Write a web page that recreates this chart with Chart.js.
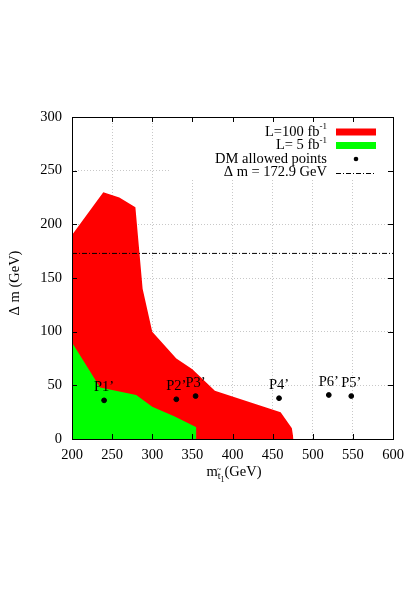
<!DOCTYPE html>
<html>
<head>
<meta charset="utf-8">
<script src="https://cdn.jsdelivr.net/npm/chart.js@4"></script>
<style>
body { margin: 0; background: #fff; }
</style>
</head>
<body>
<canvas id="chart" width="420" height="600"></canvas>
<script>
// reach region, L = 100 fb^-1
var redX = [200, 239, 259, 279, 288, 300, 330, 350, 378, 460, 474, 476];
var redY = [190, 230, 225, 216, 140, 100, 75, 65, 45, 25, 10, 0];
// reach region, L = 5 fb^-1
var greenX = [200, 235, 280, 300, 328, 355, 355];
var greenY = [90, 48, 41, 30, 21, 11, 0];
// DM allowed points
var pointNames = ["P1\u2019", "P2\u2019", "P3\u2019", "P4\u2019", "P6\u2019", "P5\u2019"];
var pointX = [240, 330, 354, 458, 520, 548];
var pointY = [36, 37, 40, 38, 41, 40];
// top mass line
var topMass = 172.9;
var xTicks = [200, 250, 300, 350, 400, 450, 500, 550, 600];
var yTicks = [0, 50, 100, 150, 200, 250, 300];

var FONT = "'Liberation Serif', 'DejaVu Serif', serif";
var FS = 14.5;

function toXY(xs, ys) {
	var out = [];
	for (var i = 0; i < xs.length; i++) out.push({x: xs[i], y: ys[i]});
	return out;
}

var framePlugin = {
	id: 'frame',
	beforeDatasetsDraw: function(chart) {
		var ctx = chart.ctx;
		var a = chart.chartArea;
		// legend box hides the grid
		ctx.save();
		ctx.fillStyle = '#fff';
		ctx.fillRect(170, a.top, a.right - 170, 61);
		ctx.restore();
	},
	afterDatasetsDraw: function(chart) {
		var ctx = chart.ctx;
		var meta = chart.getDatasetMeta(0);
		ctx.save();
		ctx.font = FS + 'px ' + FONT;
		ctx.fillStyle = '#000';
		ctx.textAlign = 'center';
		ctx.textBaseline = 'middle';
		for (var i = 0; i < pointNames.length; i++) {
			var el = meta.data[i];
			ctx.fillText(pointNames[i], el.x, el.y - 13);
		}
		ctx.restore();
	},
	afterDraw: function(chart) {
		var ctx = chart.ctx;
		var a = chart.chartArea;
		var xs = chart.scales.x, ys = chart.scales.y;
		ctx.save();
		ctx.strokeStyle = '#000';
		ctx.lineWidth = 1;
		ctx.strokeRect(Math.round(a.left) + 0.5, Math.round(a.top) + 0.5, Math.round(a.right - a.left), Math.round(a.bottom - a.top));
		ctx.beginPath();
		xTicks.forEach(function(v) {
			var px = Math.round(xs.getPixelForValue(v)) + 0.5;
			ctx.moveTo(px, a.bottom); ctx.lineTo(px, a.bottom - 5);
			ctx.moveTo(px, a.top); ctx.lineTo(px, a.top + 5);
		});
		yTicks.forEach(function(v) {
			var py = Math.round(ys.getPixelForValue(v)) + 0.5;
			ctx.moveTo(a.left, py); ctx.lineTo(a.left + 5, py);
			ctx.moveTo(a.right, py); ctx.lineTo(a.right - 5, py);
		});
		ctx.stroke();

		// axis titles
		ctx.fillStyle = '#000';
		ctx.font = FS + 'px ' + FONT;
		ctx.textBaseline = 'middle';
		ctx.save();
		ctx.translate(15, 283);
		ctx.rotate(-Math.PI / 2);
		ctx.textAlign = 'center';
		ctx.fillText('\u0394 m (GeV)', 0, 0);
		ctx.restore();

		var cx = 234;
		var ty = 472;
		ctx.textAlign = 'left';
		var w1 = ctx.measureText('m').width;
		ctx.font = '10px ' + FONT;
		var w2 = ctx.measureText('t').width;
		ctx.font = '8px ' + FONT;
		var w3 = ctx.measureText('1').width;
		ctx.font = FS + 'px ' + FONT;
		var w4 = ctx.measureText('(GeV)').width;
		var x0 = cx - (w1 + w2 + w3 + w4) / 2;
		ctx.fillText('m', x0, ty);
		ctx.font = '10px ' + FONT;
		ctx.fillText('t', x0 + w1, ty + 4);
		ctx.font = '8px ' + FONT;
		ctx.textAlign = 'center';
		ctx.fillText('~', x0 + w1 + w2 / 2, ty - 2);
		ctx.textAlign = 'left';
		ctx.fillText('1', x0 + w1 + w2, ty + 8);
		ctx.font = FS + 'px ' + FONT;
		ctx.fillText('(GeV)', x0 + w1 + w2 + w3, ty);

		// legend
		var rows = [132, 145.5, 159, 172.5];
		var tx = 327;
		ctx.textAlign = 'right';
		function labelSup(text, sup, y) {
			ctx.font = '9px ' + FONT;
			var ws = ctx.measureText(sup).width;
			ctx.textAlign = 'right';
			ctx.fillText(sup, tx, y - 5);
			ctx.font = FS + 'px ' + FONT;
			ctx.fillText(text, tx - ws, y);
		}
		labelSup('L=100 fb', '-1', rows[0]);
		labelSup('L= 5 fb', '-1', rows[1]);
		ctx.font = FS + 'px ' + FONT;
		ctx.fillText('DM allowed points', tx, rows[2]);
		ctx.fillText('\u0394 m = 172.9 GeV', tx, rows[3]);

		ctx.fillStyle = '#ff0000';
		ctx.fillRect(336, rows[0] - 3.5, 40, 7);
		ctx.fillStyle = '#00ff00';
		ctx.fillRect(336, rows[1] - 3.5, 40, 7);
		ctx.fillStyle = '#000';
		ctx.beginPath();
		ctx.arc(356, rows[2], 2.3, 0, Math.PI * 2);
		ctx.fill();
		ctx.beginPath();
		ctx.setLineDash([5, 2, 1, 2]);
		ctx.moveTo(336, Math.round(rows[3]) + 0.5);
		ctx.lineTo(376, Math.round(rows[3]) + 0.5);
		ctx.stroke();
		ctx.restore();
	}
};

var ctx = document.getElementById('chart');

var chart = new Chart(ctx, {
	type: 'scatter',
	data: {
		datasets: [
			{
				label: 'DM allowed points',
				data: toXY(pointX, pointY),
				backgroundColor: '#000',
				borderColor: '#000',
				pointRadius: 2.4,
				showLine: false
			},
			{
				label: '\u0394 m = 172.9 GeV',
				data: [{x: 200, y: topMass}, {x: 600, y: topMass}],
				borderColor: '#000',
				borderWidth: 1,
				borderDash: [5, 2, 1, 2],
				pointRadius: 0,
				showLine: true,
				fill: false
			},
			{
				label: 'L= 5 fb-1',
				data: toXY(greenX, greenY),
				borderColor: 'rgba(0,0,0,0)',
				borderWidth: 0,
				backgroundColor: '#00ff00',
				pointRadius: 0,
				showLine: true,
				tension: 0,
				fill: 'origin'
			},
			{
				label: 'L=100 fb-1',
				data: toXY(redX, redY),
				borderColor: 'rgba(0,0,0,0)',
				borderWidth: 0,
				backgroundColor: '#ff0000',
				pointRadius: 0,
				showLine: true,
				tension: 0,
				fill: 'origin'
			}
		]
	},
	options: {
		responsive: false,
		animation: false,
		devicePixelRatio: 1,
		layout: { padding: { left: 0, top: 117, right: 27, bottom: 0 } },
		plugins: {
			legend: { display: false },
			tooltip: { enabled: false },
			filler: { propagate: false }
		},
		scales: {
			x: {
				type: 'linear',
				min: 200,
				max: 600,
				afterBuildTicks: function(s) { s.ticks = xTicks.map(function(v) { return {value: v}; }); },
				afterFit: function(s) { s.height = 161; },
				ticks: { color: '#000', padding: 7, maxRotation: 0, font: { family: FONT, size: FS } },
				grid: { color: '#c8c8c8', drawTicks: false },
				border: { display: false, dash: [1, 2] }
			},
			y: {
				type: 'linear',
				min: 0,
				max: 300,
				afterBuildTicks: function(s) { s.ticks = yTicks.map(function(v) { return {value: v}; }); },
				afterFit: function(s) { s.width = 72; },
				ticks: { color: '#000', padding: 10, font: { family: FONT, size: FS } },
				grid: { color: '#c8c8c8', drawTicks: false },
				border: { display: false, dash: [1, 2] }
			}
		}
	},
	plugins: [framePlugin]
});
</script>
</body>
</html>
